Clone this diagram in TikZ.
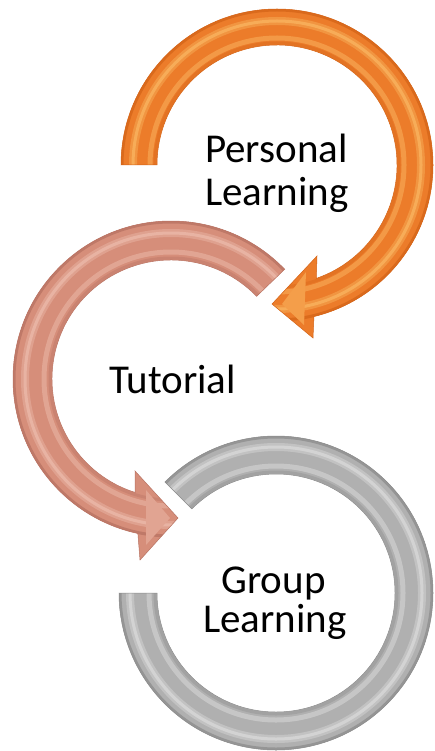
\documentclass[tikz,border=0pt]{standalone}
\usepackage{fontspec}
\setmainfont{Carlito}
\definecolor{orbase}{RGB}{236,124,42}
\definecolor{ordark}{RGB}{212,100,24}
\definecolor{orlight}{RGB}{250,180,96}
\definecolor{pkbase}{RGB}{214,142,122}
\definecolor{pkdark}{RGB}{184,114,98}
\definecolor{pklight}{RGB}{236,186,170}
\definecolor{grbase}{RGB}{176,176,176}
\definecolor{grdark}{RGB}{140,140,140}
\definecolor{grlight}{RGB}{218,218,218}
\tikzset{
  lbl/.style={font=\fontsize{41}{43}\selectfont, inner sep=0pt, text=black},
  rim/.style={line width=0.5pt},
  softband/.style={line width=#1, opacity=0.75}
}
\begin{document}
\begin{tikzpicture}[x=1pt,y=1pt]
\useasboundingbox (0,0) rectangle (434,-751);
\fill[white] (0,0) rectangle (434,-751);
\coordinate (o1) at (277,-165);
\coordinate (o2) at (171,-379);
\coordinate (o3) at (276,-593);
\def\orangepath{([shift={(180:156)}]o1) arc[start angle=180,end angle=-76.3,radius=156] -- (313,-338) -- (272,-304) -- (317,-256) -- ([shift={(-70.9:120)}]o1) arc[start angle=-70.9,end angle=180,radius=120] -- cycle}
\def\pinkpath{([shift={(44:158)}]o2) arc[start angle=44,end angle=257.9,radius=158] -- (140,-560) -- (178,-518) -- (135,-471) -- ([shift={(252.5:119)}]o2) arc[start angle=252.5,end angle=44,radius=119] -- cycle}
\def\graypath{([shift={(135:157)}]o3) arc[start angle=135,end angle=-180,radius=157] -- ([shift={(180:119)}]o3) arc[start angle=-180,end angle=135,radius=119] -- cycle}
% gray ring
\fill[grbase] \graypath;
\begin{scope}
\clip \graypath;
\draw[grdark, softband=3pt] (o3) circle[radius=156];
\draw[grlight!60!grbase, softband=8pt] (o3) circle[radius=146];
\draw[grlight, softband=3pt] (o3) circle[radius=146];
\draw[grlight!70!grbase, softband=5pt] (o3) circle[radius=127];
\draw[grdark!50!grbase, softband=3pt] (o3) circle[radius=121];
\end{scope}
\draw[grdark, rim] \graypath;
% pink arrow
\fill[pkbase] \pinkpath;
\begin{scope}
\clip \pinkpath;
\draw[pkdark, softband=3pt] (o2) circle[radius=157];
\draw[pklight!60!pkbase, softband=8pt] (o2) circle[radius=146];
\draw[pklight, softband=3pt] (o2) circle[radius=146];
\draw[pklight!70!pkbase, softband=5pt] (o2) circle[radius=127];
\draw[pkdark!50!pkbase, softband=3pt] (o2) circle[radius=121];
\fill[pklight!50!pkbase] (146,-490) -- (170,-518) -- (146,-545) -- cycle;
\end{scope}
\draw[pkdark, rim] \pinkpath;
% orange arrow
\fill[orbase] \orangepath;
\begin{scope}
\clip \orangepath;
\draw[ordark, softband=3pt] (o1) circle[radius=155];
\draw[orlight!60!orbase, softband=8pt] (o1) circle[radius=144];
\draw[orlight, softband=3pt] (o1) circle[radius=144];
\draw[orlight!70!orbase, softband=5pt] (o1) circle[radius=127];
\draw[ordark!50!orbase, softband=3pt] (o1) circle[radius=122];
\fill[orlight!60!orbase] (306,-272) -- (282,-304) -- (304,-325) -- cycle;
\end{scope}
\draw[ordark, rim] \orangepath;
% labels
\node[lbl, anchor=base] (pl1) at (276.5,-163) {Personal};
\node[lbl, anchor=base] (pl2) at (277,-206) {Learning};
\node[lbl, anchor=base] (tu) at (172.5,-393) {Tutorial};
\node[lbl, anchor=base] (gl1) at (273.5,-593) {Group};
\node[lbl, anchor=base] (gl2) at (275,-632) {Learning};
\end{tikzpicture}
\end{document}
